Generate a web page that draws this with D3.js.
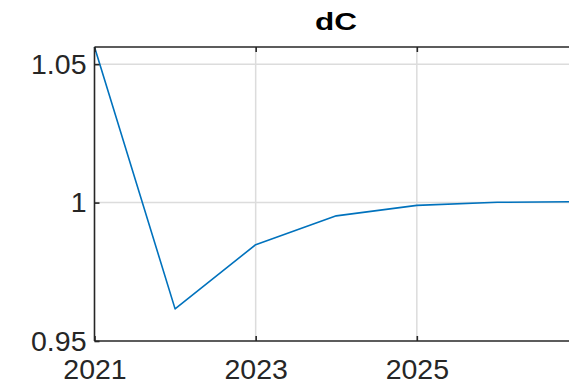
<!DOCTYPE html>
<html>
<head>
<meta charset="utf-8">
<script src="https://cdn.jsdelivr.net/npm/d3@7"></script>
<style>
  html, body { margin: 0; padding: 0; background: #fff; overflow: hidden; }
  svg { display: block; }
  text { font-family: "Liberation Sans", Arial, Helvetica, sans-serif; fill: #262626; }
</style>
</head>
<body>
<svg id="chart" width="569" height="385"></svg>
<script>
const title = "dC";
const years = [2021, 2022, 2023, 2024, 2025, 2026, 2027];
const dC = [1.0562, 0.9616, 0.9848, 0.9952, 0.9990, 1.0001, 1.0003];
const xTicks = [2021, 2023, 2025];
const yTicks = [0.95, 1, 1.05];
const yTickLabels = ["0.95", "1", "1.05"];

const W = 569, H = 385;
const m = { left: 94.5, top: 47, bottom: 341, right: 578 };

const svg = d3.select("#chart");
const x = d3.scaleLinear().domain([2021, 2027]).range([m.left, m.right]);
const y = d3.scaleLinear().domain([0.95, 1.0562]).range([m.bottom, m.top]);

const axisColor = "#262626";
const gridColor = "#dcdcdc";

// grid
const g = svg.append("g");
g.selectAll(".vg").data(xTicks.slice(1)).enter().append("line")
  .attr("x1", d => x(d)).attr("x2", d => x(d))
  .attr("y1", m.top).attr("y2", m.bottom)
  .attr("stroke", gridColor).attr("stroke-width", 1.5);
g.selectAll(".hg").data(yTicks.slice(1)).enter().append("line")
  .attr("x1", m.left).attr("x2", m.right)
  .attr("y1", d => y(d)).attr("y2", d => y(d))
  .attr("stroke", gridColor).attr("stroke-width", 1.5);

// data line
const line = d3.line().x((d, i) => x(years[i])).y(d => y(d));
svg.append("path").datum(dC)
  .attr("d", line)
  .attr("fill", "none")
  .attr("stroke", "#0072BD")
  .attr("stroke-width", 1.6)
  .attr("stroke-linejoin", "round");

// axes (MATLAB style, inward ticks, box)
const tickLen = 5;
const xAxisB = d3.axisBottom(x).tickValues(xTicks).tickSize(-tickLen).tickFormat(d3.format("d"));
const xAxisT = d3.axisTop(x).tickValues(xTicks).tickSize(-tickLen).tickFormat("");
const yAxisL = d3.axisLeft(y).tickValues(yTicks).tickSize(-tickLen).tickPadding(8)
  .tickFormat((d, i) => yTickLabels[i]);

function styleAxis(sel) {
  sel.select(".domain").attr("stroke", axisColor).attr("stroke-width", 1.6);
  sel.selectAll(".tick line").attr("stroke", axisColor).attr("stroke-width", 1.6);
  sel.selectAll(".tick text").attr("fill", axisColor)
    .style("font-size", "28.5px").style("font-family", '"Liberation Sans", Arial, sans-serif');
}

const gb = svg.append("g").attr("transform", `translate(0,${m.bottom})`).call(xAxisB);
gb.select(".domain").attr("d", `M${m.left},0H${m.right}`);
styleAxis(gb);
gb.selectAll(".tick text").attr("dy", null).attr("y", 38);

const gt = svg.append("g").attr("transform", `translate(0,${m.top})`).call(xAxisT);
gt.select(".domain").attr("d", `M${m.left},0H${m.right}`);
styleAxis(gt);

const gl = svg.append("g").attr("transform", `translate(${m.left},0)`).call(yAxisL);
gl.select(".domain").attr("d", `M0,${m.bottom}V${m.top}`);
styleAxis(gl);

// title
svg.append("text")
  .attr("x", 336).attr("y", 29.5)
  .attr("text-anchor", "middle")
  .attr("textLength", 42)
  .attr("lengthAdjust", "spacingAndGlyphs")
  .style("font-weight", "bold")
  .style("font-size", "24px")
  .style("fill", "#000")
  .text(title);
</script>
</body>
</html>
